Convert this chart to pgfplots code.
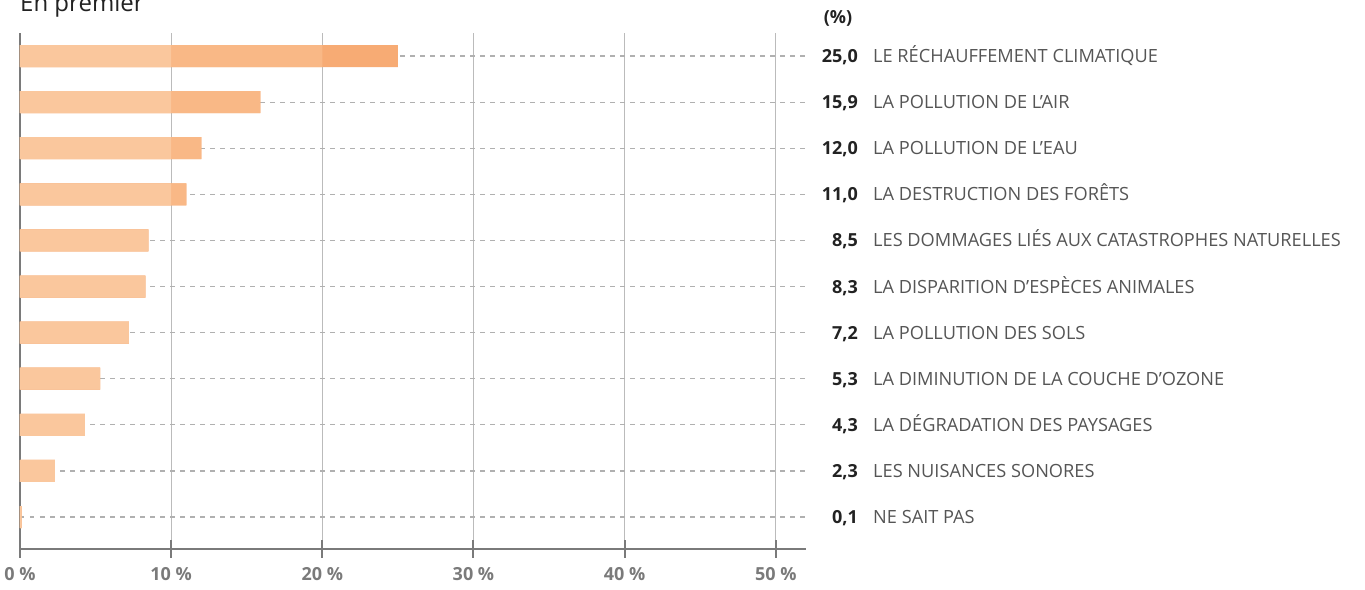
\documentclass[border=0pt]{standalone}
\usepackage{fontspec}
\setmainfont{Open Sans}
\usepackage{pgfplots}
\pgfplotsset{compat=1.18}
\usepackage{pgfplotstable}
\definecolor{segA}{HTML}{FAC79D}
\definecolor{segB}{HTML}{F9B886}
\definecolor{segC}{HTML}{F7AB74}
\definecolor{axgray}{HTML}{7A7A7A}
\definecolor{gridgray}{HTML}{BBBBBB}
\definecolor{dashgray}{HTML}{B0B0B0}
\definecolor{labgray}{HTML}{555555}
\definecolor{valdark}{HTML}{222222}

\pgfplotstableread[col sep=comma]{
y,v,m20,m10,pos,label
10,25.0,20.0,10.0,52,LE RÉCHAUFFEMENT CLIMATIQUE
9,15.9,15.9,10.0,52,LA POLLUTION DE L’AIR
8,12.0,12.0,10.0,52,LA POLLUTION DE L’EAU
7,11.0,11.0,10.0,52,LA DESTRUCTION DES FORÊTS
6,8.5,8.5,8.5,52,LES DOMMAGES LIÉS AUX CATASTROPHES NATURELLES
5,8.3,8.3,8.3,52,LA DISPARITION D’ESPÈCES ANIMALES
4,7.2,7.2,7.2,52,LA POLLUTION DES SOLS
3,5.3,5.3,5.3,52,LA DIMINUTION DE LA COUCHE D’OZONE
2,4.3,4.3,4.3,52,LA DÉGRADATION DES PAYSAGES
1,2.3,2.3,2.3,52,LES NUISANCES SONORES
0,0.1,0.1,0.1,52,NE SAIT PAS
}\datatable

\begin{document}
\begin{tikzpicture}
\begin{axis}[
  scale only axis,
  width=786pt, height=516pt,
  xmin=0, xmax=52,
  ymin=-0.694, ymax=10.5,
  axis x line*=bottom,
  axis y line*=left,
  axis line style={axgray, line width=2pt},
  xtick={0,10,20,30,40,50},
  xticklabels={0 \%,10 \%,20 \%,30 \%,40 \%,50 \%},
  xticklabel style={font=\fontsize{18}{18}\selectfont\bfseries, text=axgray, yshift=-6pt},
  x tick style={axgray, line width=2pt},
  major tick length=17pt,
  tick align=center,
  ytick={0,1,...,10},
  yticklabels={},
  y tick style={draw=none},
  xmajorgrids, ymajorgrids,
  x grid style={gridgray, line width=1.3pt},
  y grid style={dashgray, line width=1.2pt, dash pattern=on 4.5pt off 5.5pt},
  clip=false,
]
\addplot[xbar, bar width=22pt, bar shift=0pt, fill=segC, draw=none] table[x=v, y=y] {\datatable};
\addplot[xbar, bar width=22pt, bar shift=0pt, fill=segB, draw=none] table[x=m20, y=y] {\datatable};
\addplot[xbar, bar width=22pt, bar shift=0pt, fill=segA, draw=none] table[x=m10, y=y] {\datatable};
\addplot[draw=none, mark=none, nodes near coords, point meta=explicit,
  /pgf/number format/.cd, fixed, fixed zerofill, precision=1, use comma, assume math mode=true, /pgfplots/.cd,
  nodes near coords style={anchor=base east, xshift=52pt, yshift=-6.5pt, inner sep=0pt,
    font=\fontsize{18}{18}\selectfont\bfseries, text=valdark}]
  table[x=pos, y=y, meta=v] {\datatable};
\addplot[draw=none, mark=none, nodes near coords, point meta=explicit symbolic,
  nodes near coords style={anchor=base west, xshift=67pt, yshift=-6.5pt, inner sep=0pt,
    font=\fontsize{18.2}{18.2}\selectfont, text=labgray}]
  table[x=pos, y=y, meta=label] {\datatable};
\coordinate (SW) at (rel axis cs:0,0);
\end{axis}
\node[anchor=base west, inner sep=0pt, font=\fontsize{24}{24}\selectfont, text=valdark] at ([shift={(0pt,537pt)}]SW) {En premier};
\node[anchor=center, inner sep=0pt, font=\fontsize{18}{18}\selectfont\bfseries, text=valdark] at ([shift={(818pt,531pt)}]SW) {(\%)};
\pgfresetboundingbox
\path[use as bounding box] ([shift={(-20pt,-40pt)}]SW) rectangle ([shift={(1345pt,549pt)}]SW);
\end{tikzpicture}
\end{document}
